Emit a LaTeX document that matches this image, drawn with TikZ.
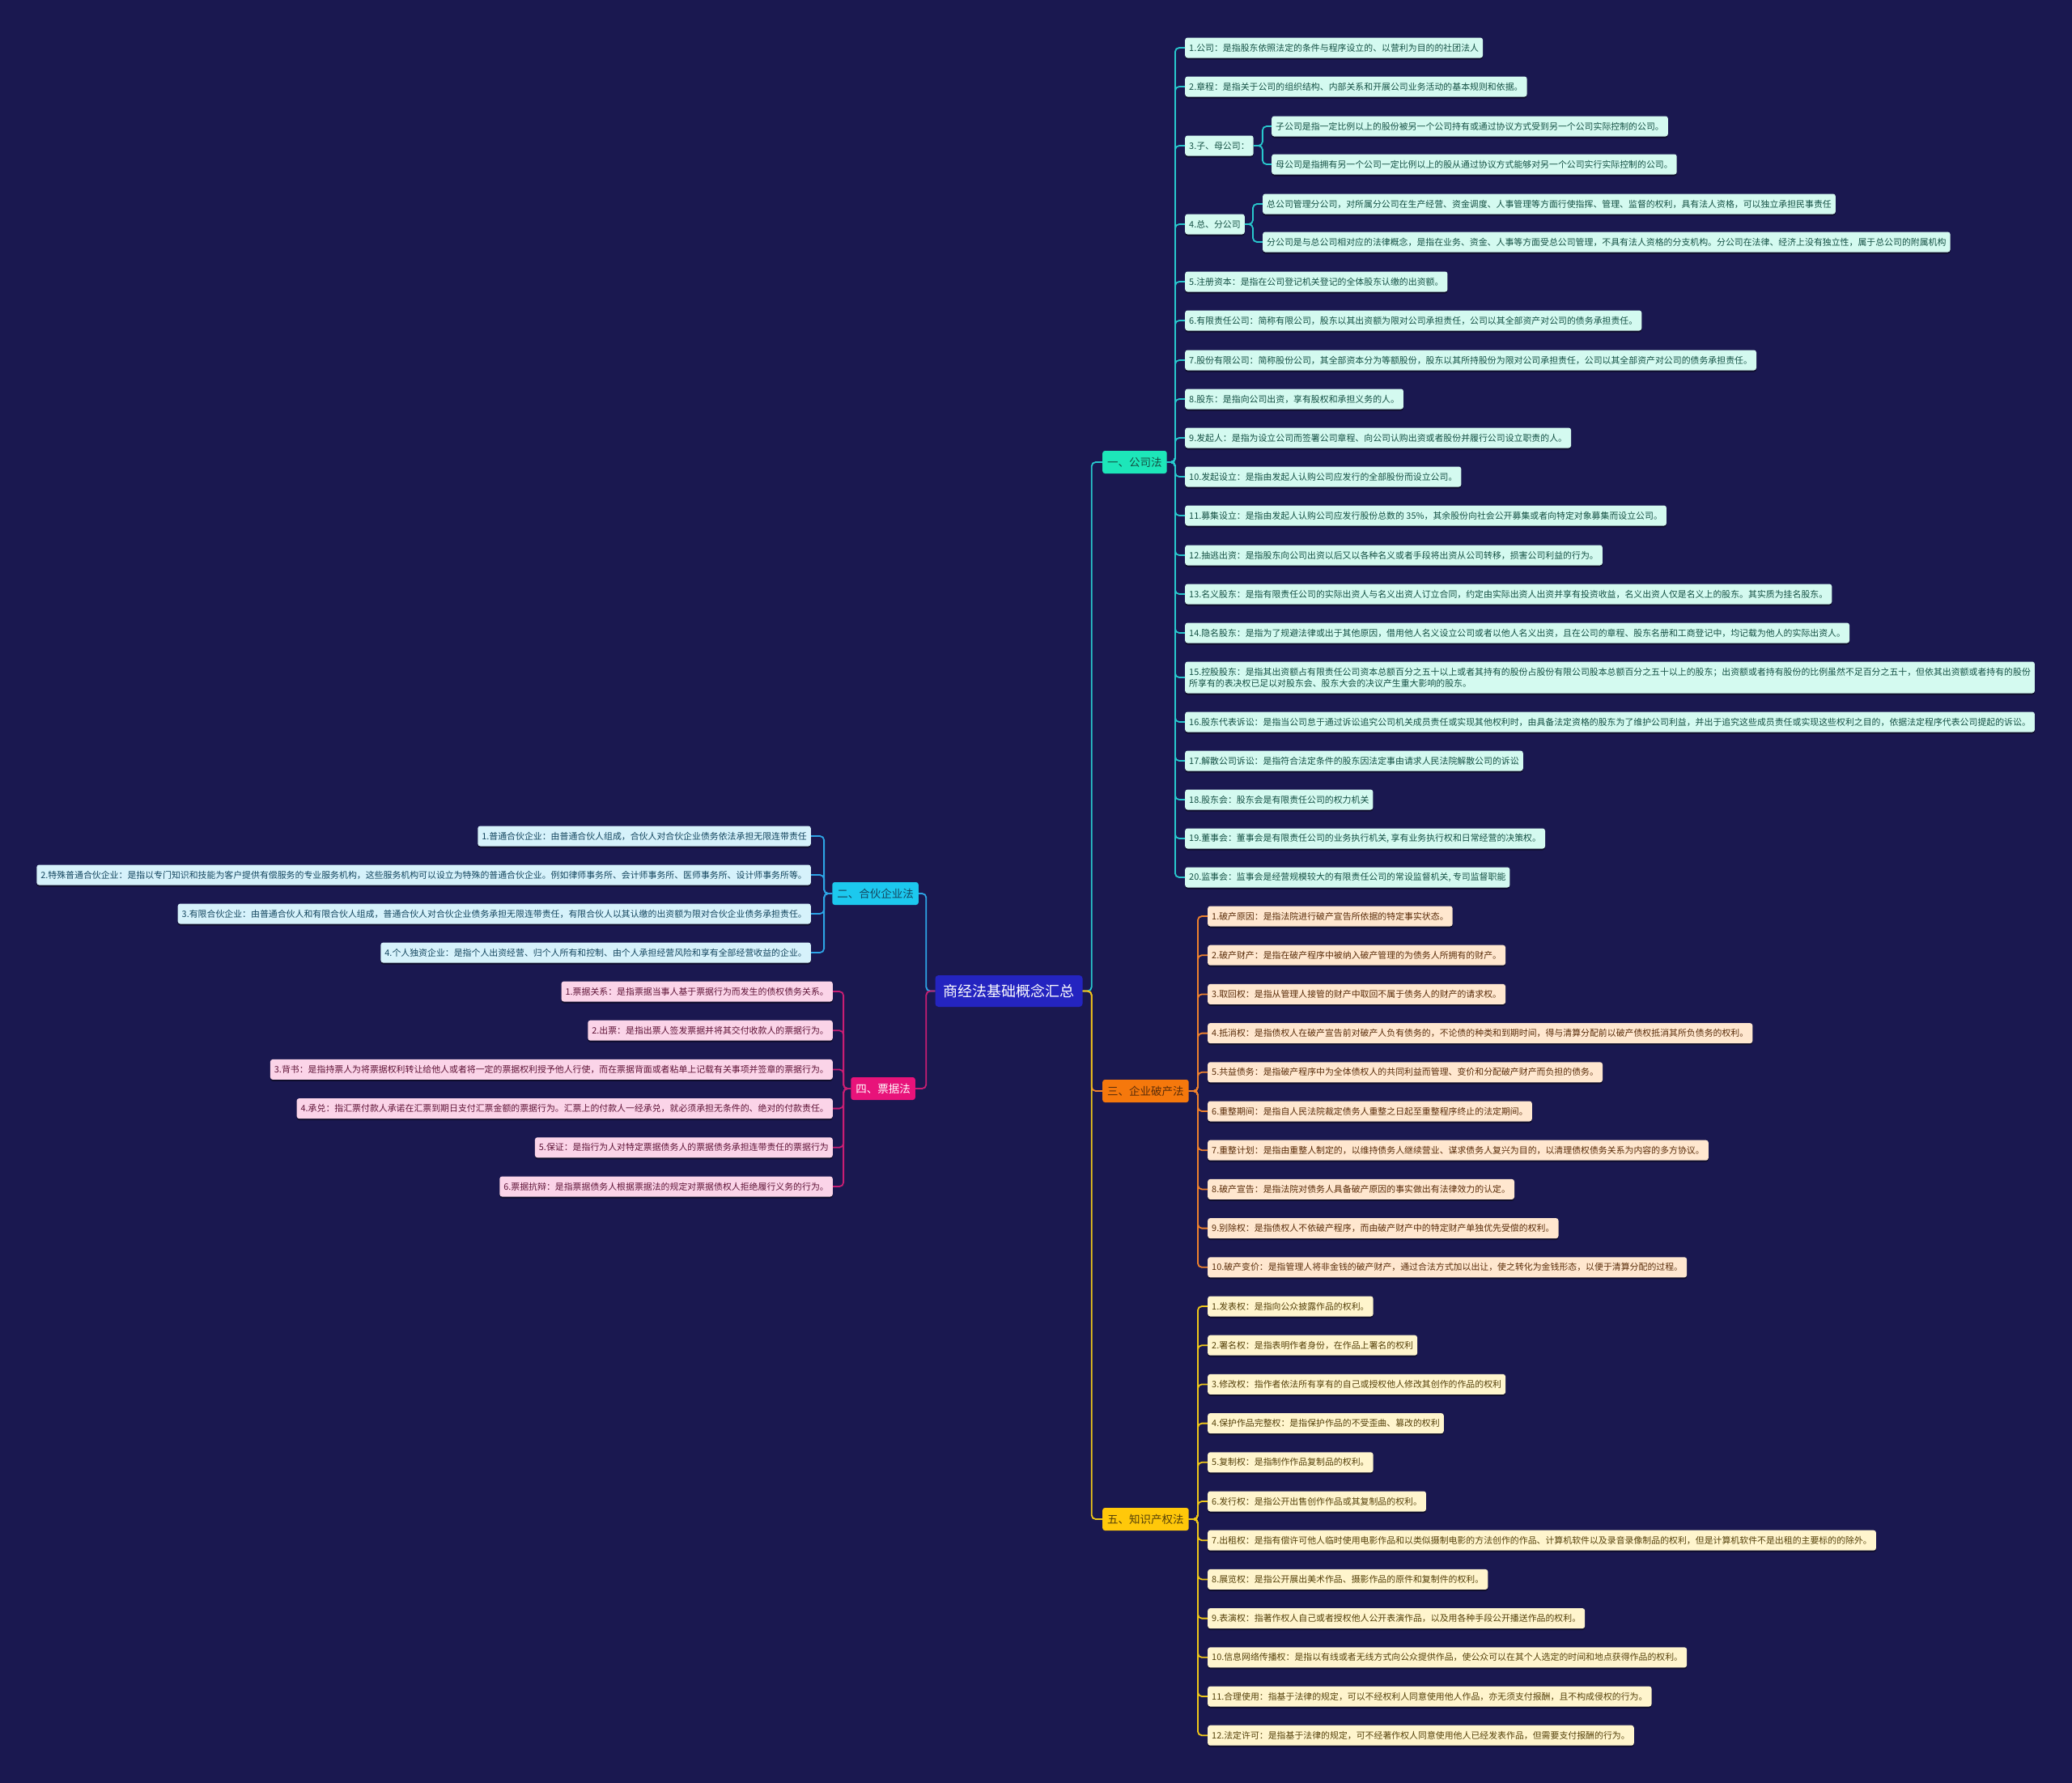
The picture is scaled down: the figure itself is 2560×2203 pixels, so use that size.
\documentclass[tikz,border=0pt]{standalone}
\usepackage{fontspec}
\newfontfamily\cjkfont{Noto Sans CJK SC}
\usetikzlibrary{shadows}

\definecolor{bgcol}{RGB}{26,24,80}
\definecolor{rootcol}{RGB}{36,36,192}
\definecolor{gscol}{RGB}{29,230,185}
\definecolor{gsline}{RGB}{40,200,205}
\definecolor{gsleaf}{RGB}{212,250,240}
\definecolor{gstext}{RGB}{20,80,68}
\definecolor{hhcol}{RGB}{28,200,238}
\definecolor{hhline}{RGB}{45,165,230}
\definecolor{hhleaf}{RGB}{214,242,251}
\definecolor{hhtext}{RGB}{20,70,95}
\definecolor{pccol}{RGB}{245,120,12}
\definecolor{pcline}{RGB}{240,130,45}
\definecolor{pcleaf}{RGB}{255,231,207}
\definecolor{pctext}{RGB}{90,45,10}
\definecolor{pjcol}{RGB}{232,19,122}
\definecolor{pjline}{RGB}{200,30,115}
\definecolor{pjleaf}{RGB}{251,212,232}
\definecolor{pjtext}{RGB}{95,20,55}
\definecolor{zscol}{RGB}{255,200,10}
\definecolor{zsline}{RGB}{240,200,25}
\definecolor{zsleaf}{RGB}{255,245,205}
\definecolor{zstext}{RGB}{85,65,10}

\begin{document}
\begin{tikzpicture}[
  x=1pt, y=-1pt,
  every node/.style={font=\cjkfont},
  leaf/.style={rounded corners=3pt, inner xsep=5pt, inner ysep=0pt, minimum height=25pt,
    font=\cjkfont\fontsize{10.9}{14}\selectfont,
    drop shadow={shadow xshift=0pt, shadow yshift=-2pt, opacity=0.45, fill=black}},
  branch/.style={rounded corners=3pt, inner xsep=6pt, inner ysep=0pt, minimum height=28pt,
    font=\cjkfont\fontsize{13.5}{16}\selectfont},
  link/.style={line width=1.8pt, rounded corners=5pt},
  gs/.style={leaf, fill=gsleaf, text=gstext, anchor=west},
  hh/.style={leaf, fill=hhleaf, text=hhtext, anchor=east},
  pc/.style={leaf, fill=pcleaf, text=pctext, anchor=west},
  pj/.style={leaf, fill=pjleaf, text=pjtext, anchor=east},
  zs/.style={leaf, fill=zsleaf, text=zstext, anchor=west}
]
\fill[bgcol] (0,0) rectangle (2560,2203);
\useasboundingbox (0,0) rectangle (2560,2203);

\node[rounded corners=4pt, fill=rootcol, text=white, inner xsep=10pt, minimum height=39pt,
  font=\cjkfont\fontsize{18}{22}\selectfont] (root) at (1246.5,1224.5) {商经法基础概念汇总};

\node[branch, fill=gscol, text=gstext, anchor=west] (gsf) at (1362,571) {一、公司法};
\node[branch, fill=hhcol, text=hhtext, anchor=east] (hhf) at (1135,1104) {二、合伙企业法};
\node[branch, fill=pccol, text=pctext, anchor=west] (pcf) at (1362,1348) {三、企业破产法};
\node[branch, fill=pjcol, text=white, anchor=east] (pjf) at (1131,1345) {四、票据法};
\node[branch, fill=zscol, text=zstext, anchor=west] (zsf) at (1362,1877) {五、知识产权法};

\draw[link, gsline] (root.east) -- ++(11,0) |- (gsf.west);
\draw[link, pcline] (root.east) -- ++(11,0) |- (pcf.west);
\draw[link, zsline] (root.east) -- ++(11,0) |- (zsf.west);
\draw[link, hhline] (root.west) -- ++(-11,0) |- (hhf.east);
\draw[link, pjline] (root.west) -- ++(-11,0) |- (pjf.east);

% 公司法
\node[gs] (gs1) at (1464,59) {1.公司：是指股东依照法定的条件与程序设立的、以营利为目的的社团法人};
\node[gs] (gs2) at (1464,107) {2.章程：是指关于公司的组织结构、内部关系和开展公司业务活动的基本规则和依据。};
\node[gs] (gs3) at (1464,180) {3.子、母公司：};
\node[gs] (gs3a) at (1571,156) {子公司是指一定比例以上的股份被另一个公司持有或通过协议方式受到另一个公司实际控制的公司。};
\node[gs] (gs3b) at (1571,203) {母公司是指拥有另一个公司一定比例以上的股从通过协议方式能够对另一个公司实行实际控制的公司。};
\node[gs] (gs4) at (1464,277) {4.总、分公司};
\node[gs] (gs4a) at (1560,252) {总公司管理分公司，对所属分公司在生产经营、资金调度、人事管理等方面行使指挥、管理、监督的权利，具有法人资格，可以独立承担民事责任};
\node[gs] (gs4b) at (1560,299) {分公司是与总公司相对应的法律概念，是指在业务、资金、人事等方面受总公司管理，不具有法人资格的分支机构。分公司在法律、经济上没有独立性，属于总公司的附属机构};
\node[gs] (gs5) at (1464,348) {5.注册资本：是指在公司登记机关登记的全体股东认缴的出资额。};
\node[gs] (gs6) at (1464,396) {6.有限责任公司：简称有限公司，股东以其出资额为限对公司承担责任，公司以其全部资产对公司的债务承担责任。};
\node[gs] (gs7) at (1464,445) {7.股份有限公司：简称股份公司，其全部资本分为等额股份，股东以其所持股份为限对公司承担责任，公司以其全部资产对公司的债务承担责任。};
\node[gs] (gs8) at (1464,493) {8.股东：是指向公司出资，享有股权和承担义务的人。};
\node[gs] (gs9) at (1464,541) {9.发起人：是指为设立公司而签署公司章程、向公司认购出资或者股份并履行公司设立职责的人。};
\node[gs] (gs10) at (1464,589) {10.发起设立：是指由发起人认购公司应发行的全部股份而设立公司。};
\node[gs] (gs11) at (1464,637) {11.募集设立：是指由发起人认购公司应发行股份总数的 35\%，其余股份向社会公开募集或者向特定对象募集而设立公司。};
\node[gs] (gs12) at (1464,686) {12.抽逃出资：是指股东向公司出资以后又以各种名义或者手段将出资从公司转移，损害公司利益的行为。};
\node[gs] (gs13) at (1464,734) {13.名义股东：是指有限责任公司的实际出资人与名义出资人订立合同，约定由实际出资人出资并享有投资收益，名义出资人仅是名义上的股东。其实质为挂名股东。};
\node[gs] (gs14) at (1464,782) {14.隐名股东：是指为了规避法律或出于其他原因，借用他人名义设立公司或者以他人名义出资，且在公司的章程、股东名册和工商登记中，均记载为他人的实际出资人。};
\node[gs, align=left, minimum height=39pt] (gs15) at (1464,837) {15.控股股东：是指其出资额占有限责任公司资本总额百分之五十以上或者其持有的股份占股份有限公司股本总额百分之五十以上的股东；出资额或者持有股份的比例虽然不足百分之五十，但依其出资额或者持有的股份\\所享有的表决权已足以对股东会、股东大会的决议产生重大影响的股东。};
\node[gs] (gs16) at (1464,892) {16.股东代表诉讼：是指当公司怠于通过诉讼追究公司机关成员责任或实现其他权利时，由具备法定资格的股东为了维护公司利益，并出于追究这些成员责任或实现这些权利之目的，依据法定程序代表公司提起的诉讼。};
\node[gs] (gs17) at (1464,940) {17.解散公司诉讼：是指符合法定条件的股东因法定事由请求人民法院解散公司的诉讼};
\node[gs] (gs18) at (1464,988) {18.股东会：股东会是有限责任公司的权力机关};
\node[gs] (gs19) at (1464,1036) {19.董事会：董事会是有限责任公司的业务执行机关, 享有业务执行权和日常经营的决策权。};
\node[gs] (gs20) at (1464,1084) {20.监事会：监事会是经营规模较大的有限责任公司的常设监督机关, 专司监督职能};
\foreach \i in {1,...,20}
  \draw[link, gsline] (gsf.east) -- ++(10,0) |- (gs\i.west);
\foreach \i in {a,b} {
  \draw[link, gsline] (gs3.east) -- ++(11,0) |- (gs3\i.west);
  \draw[link, gsline] (gs4.east) -- ++(10,0) |- (gs4\i.west);
}

% 合伙企业法
\foreach \t [count=\i] in {
  {1.普通合伙企业：由普通合伙人组成，合伙人对合伙企业债务依法承担无限连带责任},
  {2.特殊普通合伙企业：是指以专门知识和技能为客户提供有偿服务的专业服务机构，这些服务机构可以设立为特殊的普通合伙企业。例如律师事务所、会计师事务所、医师事务所、设计师事务所等。},
  {3.有限合伙企业：由普通合伙人和有限合伙人组成，普通合伙人对合伙企业债务承担无限连带责任，有限合伙人以其认缴的出资额为限对合伙企业债务承担责任。},
  {4.个人独资企业：是指个人出资经营、归个人所有和控制、由个人承担经营风险和享有全部经营收益的企业。}} {
  \node[hh] (hh\i) at (1002,{1033+48*(\i-1)}) {\t};
  \draw[link, hhline] (hhf.west) -- ++(-10,0) |- (hh\i.east);
}

% 票据法
\foreach \t [count=\i] in {
  {1.票据关系：是指票据当事人基于票据行为而发生的债权债务关系。},
  {2.出票：是指出票人签发票据并将其交付收款人的票据行为。},
  {3.背书：是指持票人为将票据权利转让给他人或者将一定的票据权利授予他人行使，而在票据背面或者粘单上记载有关事项并签章的票据行为。},
  {4.承兑：指汇票付款人承诺在汇票到期日支付汇票金额的票据行为。汇票上的付款人一经承兑，就必须承担无条件的、绝对的付款责任。},
  {5.保证：是指行为人对特定票据债务人的票据债务承担连带责任的票据行为},
  {6.票据抗辩：是指票据债务人根据票据法的规定对票据债权人拒绝履行义务的行为。}} {
  \node[pj] (pj\i) at (1029,{1225+48.2*(\i-1)}) {\t};
  \draw[link, pjline] (pjf.west) -- ++(-9,0) |- (pj\i.east);
}

% 企业破产法
\foreach \t [count=\i] in {
  {1.破产原因：是指法院进行破产宣告所依据的特定事实状态。},
  {2.破产财产：是指在破产程序中被纳入破产管理的为债务人所拥有的财产。},
  {3.取回权：是指从管理人接管的财产中取回不属于债务人的财产的请求权。},
  {4.抵消权：是指债权人在破产宣告前对破产人负有债务的，不论债的种类和到期时间，得与清算分配前以破产债权抵消其所负债务的权利。},
  {5.共益债务：是指破产程序中为全体债权人的共同利益而管理、变价和分配破产财产而负担的债务。},
  {6.重整期间：是指自人民法院裁定债务人重整之日起至重整程序终止的法定期间。},
  {7.重整计划：是指由重整人制定的，以维持债务人继续营业、谋求债务人复兴为目的，以清理债权债务关系为内容的多方协议。},
  {8.破产宣告：是指法院对债务人具备破产原因的事实做出有法律效力的认定。},
  {9.别除权：是指债权人不依破产程序，而由破产财产中的特定财产单独优先受偿的权利。},
  {10.破产变价：是指管理人将非金钱的破产财产，通过合法方式加以出让，使之转化为金钱形态，以便于清算分配的过程。}} {
  \node[pc] (pc\i) at (1492,{1132+48.2*(\i-1)}) {\t};
  \draw[link, pcline] (pcf.east) -- ++(11,0) |- (pc\i.west);
}

% 知识产权法
\foreach \t [count=\i] in {
  {1.发表权：是指向公众披露作品的权利。},
  {2.署名权：是指表明作者身份，在作品上署名的权利},
  {3.修改权：指作者依法所有享有的自己或授权他人修改其创作的作品的权利},
  {4.保护作品完整权：是指保护作品的不受歪曲、篡改的权利},
  {5.复制权：是指制作作品复制品的权利。},
  {6.发行权：是指公开出售创作作品或其复制品的权利。},
  {7.出租权：是指有偿许可他人临时使用电影作品和以类似摄制电影的方法创作的作品、计算机软件以及录音录像制品的权利，但是计算机软件不是出租的主要标的的除外。},
  {8.展览权：是指公开展出美术作品、摄影作品的原件和复制件的权利。},
  {9.表演权：指著作权人自己或者授权他人公开表演作品，以及用各种手段公开播送作品的权利。},
  {10.信息网络传播权：是指以有线或者无线方式向公众提供作品，使公众可以在其个人选定的时间和地点获得作品的权利。},
  {11.合理使用：指基于法律的规定，可以不经权利人同意使用他人作品，亦无须支付报酬，且不构成侵权的行为。},
  {12.法定许可：是指基于法律的规定，可不经著作权人同意使用他人已经发表作品，但需要支付报酬的行为。}} {
  \node[zs] (zs\i) at (1492,{1614+48.2*(\i-1)}) {\t};
  \draw[link, zsline] (zsf.east) -- ++(11,0) |- (zs\i.west);
}
\end{tikzpicture}
\end{document}
